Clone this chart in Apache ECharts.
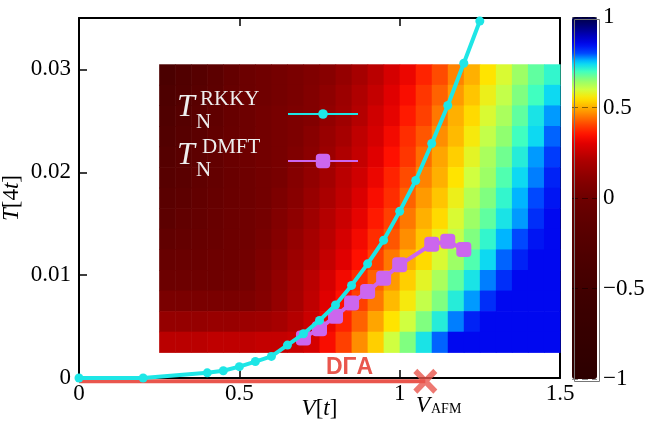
<!DOCTYPE html>
<html>
<head>
<meta charset="utf-8">
<script src="https://cdn.jsdelivr.net/npm/echarts@6/dist/echarts.min.js"></script>
<style>
  html, body { margin: 0; padding: 0; background: #fff; }
  #chart { width: 655px; height: 424px; }
</style>
</head>
<body>
<div id="chart"></div>
<script>
// T_N^RKKY
const rkkyV = [0, 0.2, 0.4, 0.45, 0.5, 0.55, 0.6, 0.65, 0.7, 0.75, 0.8, 0.85, 0.9, 0.95, 1.0, 1.05, 1.1, 1.15, 1.2, 1.25];
const rkkyT = [0, 0, 0.0005, 0.0007, 0.0011, 0.0016, 0.0021, 0.0032, 0.0043, 0.0056, 0.0071, 0.0090, 0.0111, 0.0134, 0.0162, 0.0192, 0.0228, 0.0265, 0.0306, 0.0347];
// T_N^DMFT
const dmftV = [0.7, 0.75, 0.8, 0.85, 0.9, 0.95, 1.0, 1.1, 1.15, 1.2];
const dmftT = [0.0039, 0.0048, 0.0060, 0.0073, 0.0084, 0.0097, 0.0110, 0.0130, 0.0133, 0.0125];
// DGA: no order down to T=0, up to V_AFM
const dgaV = [0, 1.08];
const dgaT = [-0.00032, -0.00032];
const vAfm = 1.08;

// tick labels
const xTicks = [0, 0.5, 1, 1.5];
const yTicks = [0, 0.01, 0.02, 0.03];
const cbTicks = [-1, -0.5, 0, 0.5, 1];

// colour map background: cell centres and values (rows from top)
const heatV = [0.275, 0.325, 0.375, 0.425, 0.475, 0.525, 0.575, 0.625, 0.675, 0.725, 0.775, 0.825, 0.875,
               0.925, 0.975, 1.025, 1.075, 1.125, 1.175, 1.225, 1.275, 1.325, 1.375, 1.425, 1.475];
const heatT = [0.0295, 0.0275, 0.0255, 0.0235, 0.0215, 0.0195, 0.0175, 0.0155, 0.0135, 0.0115, 0.0095, 0.0075, 0.0055, 0.0035];
const heatRows = [
  [-0.36,-0.29,-0.22,-0.15,-0.08,-0.02,0.01,0.03,0.05,0.07,0.10,0.14,0.19,0.23,0.28,0.32,0.37,0.41,0.46,0.50,0.55,0.59,0.64,0.68,0.71],
  [-0.33,-0.27,-0.20,-0.14,-0.07,-0.02,0.01,0.03,0.05,0.08,0.12,0.16,0.21,0.25,0.30,0.34,0.39,0.43,0.48,0.52,0.57,0.61,0.66,0.70,0.74],
  [-0.30,-0.24,-0.18,-0.12,-0.06,-0.01,0.02,0.04,0.06,0.08,0.13,0.17,0.22,0.27,0.31,0.36,0.40,0.45,0.50,0.54,0.59,0.63,0.68,0.73,0.77],
  [-0.27,-0.21,-0.16,-0.10,-0.05,-0.01,0.02,0.04,0.06,0.10,0.15,0.19,0.24,0.28,0.33,0.38,0.42,0.47,0.51,0.56,0.61,0.65,0.70,0.74,0.79],
  [-0.24,-0.19,-0.14,-0.09,-0.04,0.00,0.02,0.04,0.07,0.11,0.16,0.21,0.25,0.30,0.35,0.39,0.44,0.49,0.53,0.58,0.63,0.67,0.72,0.77,0.81],
  [-0.21,-0.17,-0.12,-0.08,-0.04,0.00,0.02,0.04,0.09,0.13,0.18,0.23,0.27,0.32,0.37,0.41,0.46,0.50,0.55,0.60,0.64,0.69,0.74,0.78,0.83],
  [-0.18,-0.14,-0.10,-0.07,-0.03,0.00,0.02,0.06,0.10,0.15,0.20,0.24,0.29,0.34,0.38,0.43,0.48,0.52,0.57,0.62,0.66,0.71,0.76,0.80,0.84],
  [-0.15,-0.11,-0.08,-0.05,-0.02,0.01,0.03,0.08,0.12,0.17,0.22,0.26,0.31,0.36,0.40,0.45,0.50,0.54,0.59,0.64,0.68,0.73,0.77,0.82,0.85],
  [-0.11,-0.08,-0.06,-0.04,-0.01,0.01,0.04,0.09,0.14,0.19,0.23,0.28,0.33,0.38,0.42,0.47,0.52,0.57,0.61,0.66,0.71,0.76,0.80,0.84,0.85],
  [-0.06,-0.04,-0.03,-0.01,0.00,0.02,0.06,0.11,0.16,0.20,0.25,0.30,0.35,0.40,0.45,0.50,0.54,0.59,0.64,0.69,0.74,0.79,0.83,0.85,0.85],
  [-0.02,-0.01,0.00,0.00,0.01,0.03,0.08,0.13,0.18,0.23,0.28,0.33,0.38,0.43,0.48,0.53,0.58,0.63,0.68,0.73,0.78,0.82,0.85,0.85,0.85],
  [0.05,0.05,0.05,0.05,0.05,0.06,0.09,0.14,0.19,0.24,0.30,0.35,0.40,0.45,0.51,0.56,0.61,0.66,0.72,0.77,0.82,0.85,0.85,0.85,0.85],
  [0.14,0.14,0.14,0.15,0.15,0.16,0.17,0.19,0.22,0.26,0.32,0.37,0.43,0.49,0.55,0.60,0.66,0.72,0.78,0.83,0.85,0.85,0.85,0.85,0.85],
  [0.23,0.23,0.23,0.24,0.24,0.24,0.25,0.25,0.26,0.28,0.34,0.40,0.47,0.53,0.60,0.66,0.73,0.79,0.85,0.85,0.85,0.85,0.85,0.85,0.85]
];

// colour scale, -1 .. 1 in steps of 0.05
const cmap = [
  '#2c0000','#2e0000','#300000','#320000','#340000','#360000','#380000','#3a0000','#3c0000','#3e0000',
  '#420000','#450000','#480000','#4c0000','#500000','#540000','#580000','#5c0000','#620000','#680000',
  '#6e0000','#7a0000','#880000','#980000','#aa0000','#c40000','#e00000','#ff1000','#ff4000','#ff7800',
  '#ffb000','#ffe400','#d0ff40','#90ff70','#40ffc0','#00d0ff','#0048ff','#0008f0','#0000b8','#000078',
  '#000044'
];

const SERIF = '"Liberation Serif", "Times New Roman", serif';
const cyan = '#1ee6e6';
const purple = '#cc66ee';
const red = '#e9564d';

const heatData = [];
heatRows.forEach((row, i) => {
  row.forEach((val, j) => heatData.push([heatV[j], heatT[i], val]));
});
const cellW = heatV[1] - heatV[0];
const cellH = heatT[0] - heatT[1];

const chart = echarts.init(document.getElementById('chart'));

const plotAxisCommon = {
  axisLine: { onZero: false, lineStyle: { color: '#000', width: 2 } },
  axisTick: { inside: true, length: 8, lineStyle: { color: '#000', width: 1.5 } },
  splitLine: { show: false }
};

const option = {
  animation: false,
  backgroundColor: '#fff',
  grid: [
    { left: 79, top: 18, width: 481, height: 360, outerBoundsMode: 'none', containLabel: false },
    { left: 572, top: 17, width: 25, height: 362, outerBoundsMode: 'none', containLabel: false }
  ],
  xAxis: [
    Object.assign({
      type: 'value', gridIndex: 0, position: 'bottom',
      min: xTicks[0], max: xTicks[xTicks.length - 1], interval: xTicks[1] - xTicks[0],
      name: '{i|V}[{i|t}]', nameLocation: 'middle', nameGap: 19, nameMoveOverlap: false,
      nameTextStyle: { fontFamily: SERIF, fontSize: 23, color: '#000',
        rich: { i: { fontFamily: SERIF, fontSize: 23, fontStyle: 'italic', color: '#000' } } },
      axisLabel: { fontFamily: SERIF, fontSize: 23, color: '#000', margin: 4 }
    }, plotAxisCommon),
    Object.assign({
      type: 'value', gridIndex: 0, position: 'top',
      min: xTicks[0], max: xTicks[xTicks.length - 1], interval: xTicks[1] - xTicks[0],
      axisLabel: { show: false }
    }, plotAxisCommon),
    { type: 'value', gridIndex: 1, show: false, min: 0, max: 1 }
  ],
  yAxis: [
    Object.assign({
      type: 'value', gridIndex: 0, position: 'left',
      min: yTicks[0], max: 0.035, interval: yTicks[1] - yTicks[0],
      name: '{i|T}[4{i|t}]', nameLocation: 'middle', nameGap: 56, nameMoveOverlap: false,
      nameTextStyle: { fontFamily: SERIF, fontSize: 23, color: '#000',
        rich: { i: { fontFamily: SERIF, fontSize: 23, fontStyle: 'italic', color: '#000' } } },
      axisLabel: { fontFamily: SERIF, fontSize: 23, color: '#000', margin: 8, showMaxLabel: false }
    }, plotAxisCommon),
    Object.assign({
      type: 'value', gridIndex: 0, position: 'right',
      min: yTicks[0], max: 0.035, interval: yTicks[1] - yTicks[0],
      axisLabel: { show: false }
    }, plotAxisCommon),
    {
      type: 'value', gridIndex: 1, position: 'right', z: 6,
      min: cbTicks[0], max: cbTicks[cbTicks.length - 1], interval: cbTicks[1] - cbTicks[0],
      axisLine: { show: false },
      axisTick: { show: false },
      splitLine: { show: true, lineStyle: { color: 'rgba(0,0,0,0.45)', type: [6, 4], width: 1 } },
      axisLabel: { fontFamily: SERIF, fontSize: 23, color: '#000', margin: 6,
        formatter: v => String(v).replace('-', '\u2212') }
    }
  ],
  visualMap: {
    type: 'continuous', seriesIndex: 0, dimension: 2,
    min: cbTicks[0], max: cbTicks[cbTicks.length - 1],
    calculable: false, hoverLink: false, padding: 0,
    left: 572, top: 17, itemWidth: 25, itemHeight: 362,
    formatter: () => '',
    inRange: { color: cmap }
  },
  legend: [
    { data: ['RKKY'], left: 287, top: 108, itemWidth: 70, itemHeight: 12, padding: 0,
      formatter: () => '', selectedMode: false },
    { data: ['DMFT'], left: 287, top: 152, itemWidth: 70, itemHeight: 18, padding: 0,
      formatter: () => '', selectedMode: false }
  ],
  graphic: [
    { type: 'text', left: 177, top: 92, z: 10, style: { text: 'T', font: 'italic 32px ' + SERIF, fill: '#eeeeee' } },
    { type: 'text', left: 200, top: 89, z: 10, style: { text: 'RKKY', font: '21px ' + SERIF, fill: '#eeeeee' } },
    { type: 'text', left: 196, top: 112, z: 10, style: { text: 'N', font: '21px ' + SERIF, fill: '#eeeeee' } },
    { type: 'text', left: 177, top: 140, z: 10, style: { text: 'T', font: 'italic 32px ' + SERIF, fill: '#eeeeee' } },
    { type: 'text', left: 202, top: 137, z: 10, style: { text: 'DMFT', font: '21px ' + SERIF, fill: '#eeeeee' } },
    { type: 'text', left: 196, top: 160, z: 10, style: { text: 'N', font: '21px ' + SERIF, fill: '#eeeeee' } },
    { type: 'text', left: 326, top: 356, z: 10, style: { text: 'D\u0393A', font: 'bold 23px "Liberation Sans", Arial, sans-serif', fill: red } },
    { type: 'text', left: 416, top: 394, z: 10, style: { text: 'V', font: 'italic 23px ' + SERIF, fill: '#000' } },
    { type: 'text', left: 431, top: 402, z: 10, style: { text: 'AFM', font: '14px ' + SERIF, fill: '#000' } },
    // thin frame round the colour bar
    { type: 'rect', left: 572, top: 17, z: 10, silent: true,
      shape: { width: 25, height: 362 }, style: { fill: null, stroke: '#777', lineWidth: 1 } }
  ],
  series: [
    {
      type: 'custom', name: 'map', xAxisIndex: 0, yAxisIndex: 0, silent: true, z: 1,
      encode: { x: 0, y: 1 },
      data: heatData,
      renderItem: (params, api) => {
        const v = api.value(0), t = api.value(1);
        const p0 = api.coord([v - cellW / 2, t + cellH / 2]);
        const p1 = api.coord([v + cellW / 2, t - cellH / 2]);
        return {
          type: 'rect',
          shape: { x: p0[0], y: p0[1], width: p1[0] - p0[0] + 0.6, height: p1[1] - p0[1] + 0.6 },
          style: { fill: api.visual('color') }
        };
      }
    },
    {
      type: 'line', name: 'DGA', z: 3, clip: false, silent: true,
      data: dgaV.map((v, i) => [v, dgaT[i]]),
      symbol: 'none',
      lineStyle: { color: red, width: 4 }
    },
    {
      type: 'line', name: 'DMFT', z: 4,
      data: dmftV.map((v, i) => [v, dmftT[i]]),
      symbol: 'roundRect', symbolSize: 15,
      itemStyle: { color: purple },
      lineStyle: { color: purple, width: 4 }
    },
    {
      type: 'line', name: 'RKKY', z: 5,
      data: rkkyV.map((v, i) => [v, rkkyT[i]]),
      symbol: 'circle', symbolSize: 9,
      itemStyle: { color: cyan },
      lineStyle: { color: cyan, width: 4 }
    },
    {
      type: 'scatter', name: 'VAFM', z: 6, clip: false, silent: true,
      data: [[vAfm, dgaT[0]]],
      symbol: 'path://M0,4 L4,0 L12,8 L20,0 L24,4 L16,12 L24,20 L20,24 L12,16 L4,24 L0,20 L8,12 Z',
      symbolSize: [24, 25],
      itemStyle: { color: red }
    }
  ]
};

chart.setOption(option);
</script>
</body>
</html>
